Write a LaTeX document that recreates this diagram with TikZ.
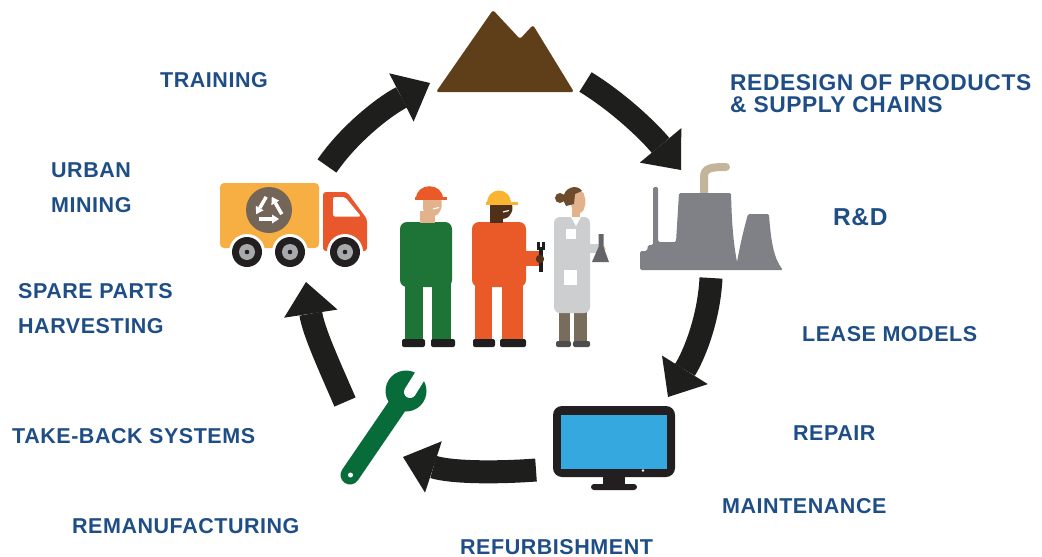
\documentclass[tikz,border=0pt]{standalone}
\usepackage{fontspec}
\setmainfont{Liberation Sans}
\newfontfamily\lblfont[LetterSpace=2.5]{Liberation Sans}
\usetikzlibrary{arrows.meta}

\definecolor{txtblue}{RGB}{31,78,135}
\definecolor{arrowblack}{RGB}{30,30,28}
\definecolor{mountain}{RGB}{94,63,25}
\definecolor{plant}{RGB}{128,129,135}
\definecolor{smoke}{RGB}{195,181,155}
\definecolor{bezel}{RGB}{35,31,32}
\definecolor{screen}{RGB}{53,168,224}
\definecolor{spanner}{RGB}{8,107,58}
\definecolor{cargo}{RGB}{247,174,66}
\definecolor{cab}{RGB}{233,87,44}
\definecolor{recyc}{RGB}{115,102,88}
\definecolor{hub}{RGB}{167,169,172}
\definecolor{overallgreen}{RGB}{30,115,55}
\definecolor{overallorange}{RGB}{233,90,40}
\definecolor{hatyellow}{RGB}{250,180,50}
\definecolor{skin}{RGB}{226,178,140}
\definecolor{darkskin}{RGB}{80,48,25}
\definecolor{coat}{RGB}{205,206,208}
\definecolor{hair}{RGB}{110,75,45}
\definecolor{trousers}{RGB}{120,108,92}
\definecolor{flask}{RGB}{100,100,105}
\definecolor{shoe}{RGB}{30,30,30}

\begin{document}
\begin{tikzpicture}[x=1pt,y=-1pt,
  lbl/.style={font=\lblfont\bfseries\fontsize{21.5}{24}\selectfont, text=txtblue,
              anchor=base west, inner sep=0pt},
  lblbig/.style={lbl, font=\lblfont\bfseries\fontsize{22.8}{24}\selectfont},
  cyclearrow/.style={draw=arrowblack, line width=23pt,
              -{Triangle[length=32pt,width=54pt,line width=0pt]}}]
\useasboundingbox (0,0) rectangle (1042,557);

% ---------- labels ----------
\node[lbl] (training) at (160,87) {TRAINING};
\node[lbl] (urban) at (51,177) {URBAN};
\node[lbl] (mining) at (51,212) {MINING};
\node[lbl] (spare) at (18,298) {SPARE PARTS};
\node[lbl] (harvest) at (18,333) {HARVESTING};
\node[lbl] (takeback) at (12,443) {TAKE-BACK SYSTEMS};
\node[lbl] (reman) at (72,533) {REMANUFACTURING};
\node[lbl] (refurb) at (460,554) {REFURBISHMENT};
\node[lbl] (maint) at (722,513) {MAINTENANCE};
\node[lbl] (repair) at (793,440) {REPAIR};
\node[lbl] (lease) at (802,341) {LEASE MODELS};
\node[lblbig] (redesign) at (730,90.5) {REDESIGN OF PRODUCTS};
\node[lblbig] (supply) at (730,112.5) {\& SUPPLY CHAINS};
\node[lbl, font=\lblfont\bfseries\fontsize{24.5}{26}\selectfont] (rnd) at (833,225) {R\&D};

% ---------- mountain ----------
\fill[mountain, rounded corners=2.5] (436,92) -- (493,10) -- (520,39) -- (533,25) -- (574,92) -- cycle;

% ---------- power plant ----------
\draw[smoke, line width=8pt, line cap=round] (704,194) -- (704,177)
  .. controls (704,168) and (711,167) .. (726,167);
\fill[plant, rounded corners=1.5] (640,270) -- (640,251) -- (647,251) -- (648,245) -- (653,245)
  -- (653,187) -- (658,187) -- (658,242) -- (676,242) -- (679,193) -- (731,193)
  .. controls (732,230) and (734,245) .. (737,262)
  .. controls (741,240) and (745,225) .. (748,214) -- (769,214)
  .. controls (771,245) and (775,260) .. (783,270) -- cycle;

% ---------- monitor ----------
\fill[bezel, rounded corners=9] (553,406) rectangle (675,477);
\fill[screen] (561,415) rectangle (667,469);
\fill[white] (643,470.5) circle (1.4);
\fill[bezel] (603,475) rectangle (625,486);
\fill[bezel, rounded corners=3] (591,484) rectangle (637,490);

% ---------- spanner ----------
\draw[spanner, line width=19pt, line cap=round] (350,475) -- (404,396);
\fill[spanner] (406,391) circle (20.5);
\draw[white, line width=12pt, line cap=round] (410,392) -- (425,368);
\fill[white] (350.5,475) circle (2.5);

% ---------- recycling truck ----------
\fill[cargo, rounded corners=4] (220,183) rectangle (319,248);
\fill[cab, rounded corners=3] (323,251) -- (323,192) -- (347,192) -- (367,219) -- (367,251) -- cycle;
\fill[white, rounded corners=2] (333,197) -- (345,197) -- (361,216.5) -- (333,216.5) -- cycle;
\fill[recyc] (269,210) circle (23);
\foreach \r in {0,120,240}{
  \begin{scope}[shift={(269,210)}, rotate=\r]
    \draw[white, line width=3.5pt] (-10,9) -- (3,9);
    \fill[white] (3,4.5) -- (10,9) -- (3,13.5) -- cycle;
  \end{scope}
}
\foreach \cx in {247,290,345}{
  \fill[white] (\cx,252) circle (18);
  \fill[bezel] (\cx,252) circle (15);
  \fill[hub] (\cx,252) circle (8);
  \fill[bezel] (\cx,252) circle (2.3);
}

% ---------- worker in green overalls ----------
\fill[overallgreen, rounded corners=7] (400,222) rectangle (452,287);
\fill[overallgreen] (405,280) rectangle (423,341);
\fill[overallgreen] (432,280) rectangle (451,341);
\fill[shoe, rounded corners=2] (402,339) rectangle (425,347);
\fill[shoe, rounded corners=2] (431,339) rectangle (455,347);
\fill[skin] (420,211) rectangle (435,223);
\fill[skin, rounded corners=3] (423,196) -- (441,196) -- (442,207) -- (438,215) -- (428,217) -- (423,211) -- cycle;
\draw[white, line width=1.2pt] (433,209) -- (439,207.5);
\fill[overallorange] (416,199) .. controls (416,182) and (443,182) .. (443,199) -- cycle;
\fill[overallorange] (415,197) rectangle (447,200);

% ---------- worker in orange overalls ----------
\fill[overallorange, rounded corners=7] (472,222) rectangle (526,287);
\fill[overallorange] (520,251) rectangle (539,266);
\fill[overallorange] (475,280) rectangle (492,341);
\fill[overallorange] (502,280) rectangle (523,341);
\fill[shoe, rounded corners=2] (473,339) rectangle (495,347);
\fill[shoe, rounded corners=2] (500,339) rectangle (526,347);
\fill[darkskin] (490,212) rectangle (503,223);
\fill[darkskin, rounded corners=3] (490,200) -- (511,200) -- (513,210) -- (508,218) -- (496,220) -- (490,214) -- cycle;
\draw[white, line width=1.2pt] (503,212) -- (509,210.5);
\fill[hatyellow] (487,204) .. controls (487,186) and (511,186) .. (511,204) -- cycle;
\fill[hatyellow] (486,202) rectangle (518,205);
\draw[shoe, line width=4.5pt] (541,249) -- (541,272);
\fill[shoe] (537,242) rectangle (545,250);
\fill[white] (539.7,242) rectangle (542.3,246.5);
\fill[darkskin] (540,259) circle (4.2);

% ---------- scientist ----------
\fill[trousers] (559,306) rectangle (570,343);
\fill[trousers] (574,306) rectangle (587,343);
\fill[bezel!80, rounded corners=2] (556,341) rectangle (571,347);
\fill[bezel!80, rounded corners=2] (573,341) rectangle (590,347);
\fill[coat, rounded corners=6] (554,217) rectangle (590,313);
\fill[coat] (584,244) rectangle (601,253);
\fill[skin] (602,249) circle (3.5);
\fill[flask] (598.5,234) -- (603.5,234) -- (603.5,247) -- (609,262) -- (592,262) -- (598.5,247) -- cycle;
\fill[white] (566,229) rectangle (576,239);
\fill[white] (564,270) rectangle (577,285);
\fill[skin] (572,209) rectangle (580,219);
\fill[white] (571,217) -- (581,217) -- (576,226) -- cycle;
\fill[skin, rounded corners=2] (571,193) -- (583,191) -- (586,202) -- (583,212) -- (575,214) -- (571,206) -- cycle;
\fill[hair] (563,200) .. controls (563,186) and (578,184) .. (582,191)
  -- (575,194) -- (574,204) -- (566,206) -- cycle;
\fill[hair] (560,198) circle (5);

% ---------- cycle arrows ----------
\coordinate (a1s) at (327,166);   \coordinate (a1e) at (430,83);
\coordinate (a2s) at (585.5,82);  \coordinate (a2e) at (681,170);
\coordinate (a3s) at (711,278);   \coordinate (a3e) at (668,397);
\coordinate (a4s) at (536,470);   \coordinate (a4e) at (403,457);
\coordinate (a5s) at (345,402);   \coordinate (a5e) at (306,282);
\draw[cyclearrow] (a1s) .. controls (349.6,133) and (385.5,105.5) .. (a1e);
\draw[cyclearrow] (a2s) .. controls (619.5,103) and (649,131.5) .. (a2e);
\draw[cyclearrow] (a3s) .. controls (709,318) and (694.5,354.5) .. (a3e);
\draw[cyclearrow] (a4s) .. controls (496,473) and (450.5,472.5) .. (a4e);
\draw[cyclearrow] (a5s) .. controls (329,365) and (313.5,331.5) .. (a5e);
\end{tikzpicture}
\end{document}
